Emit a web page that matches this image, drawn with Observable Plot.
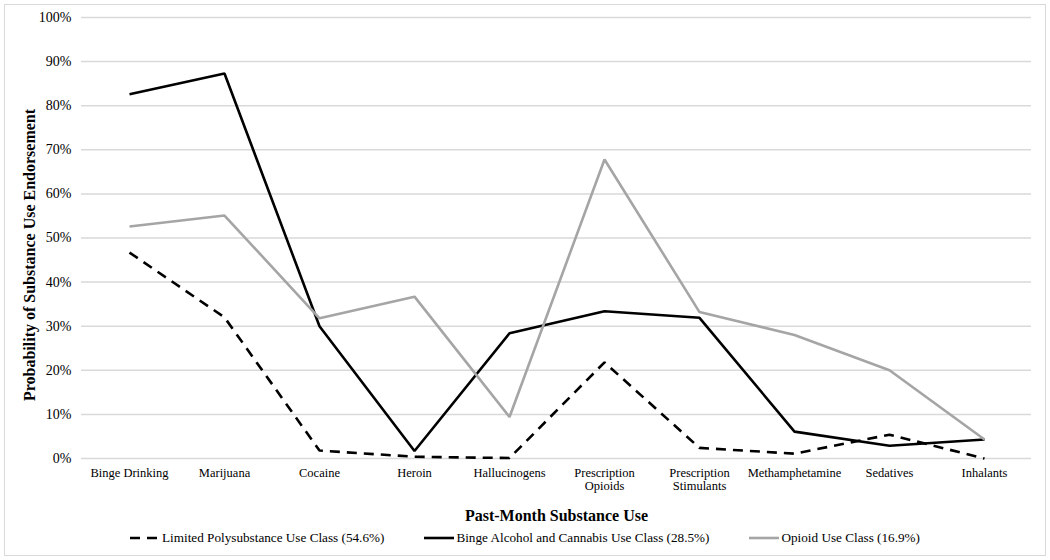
<!DOCTYPE html>
<html>
<head>
<meta charset="utf-8">
<script src="https://cdn.jsdelivr.net/npm/d3@7"></script>
<script src="https://cdn.jsdelivr.net/npm/@observablehq/plot@0.6"></script>
<style>
  html, body { margin: 0; padding: 0; background: #fff; }
  body { font-family: "Liberation Serif", "Times New Roman", serif; }
  #frame { position: absolute; left: 4px; top: 4px; width: 1040px; height: 550px; border: 1px solid #d9d9d9; }
  #chart svg { display: block; font-family: "Liberation Serif", "Times New Roman", serif; }
  #legend { display: flex; justify-content: center; align-items: center; gap: 40px; font-size: 13.2px; color: #000; height: 16px; }
  .item { display: flex; align-items: center; gap: 2px; white-space: nowrap; }
</style>
</head>
<body>
<div id="frame">
  <div id="chart"></div>
  <div id="legend"></div>
</div>
<script>
const categories = ["Binge Drinking", "Marijuana", "Cocaine", "Heroin", "Hallucinogens",
  "Prescription Opioids", "Prescription Stimulants", "Methamphetamine", "Sedatives", "Inhalants"];
const tickLabels = ["Binge Drinking", "Marijuana", "Cocaine", "Heroin", "Hallucinogens",
  "Prescription\nOpioids", "Prescription\nStimulants", "Methamphetamine", "Sedatives", "Inhalants"];
const seriesNames = ["Limited Polysubstance Use Class (54.6%)",
  "Binge Alcohol and Cannabis Use Class (28.5%)",
  "Opioid Use Class (16.9%)"];
const limitedValues = [0.467, 0.320, 0.018, 0.004, 0.001, 0.218, 0.024, 0.011, 0.054, 0.000];
const bingeValues   = [0.826, 0.873, 0.300, 0.017, 0.284, 0.334, 0.319, 0.061, 0.029, 0.043];
const opioidValues  = [0.526, 0.551, 0.318, 0.367, 0.094, 0.678, 0.332, 0.280, 0.200, 0.043];
const yTicks = [0, 0.1, 0.2, 0.3, 0.4, 0.5, 0.6, 0.7, 0.8, 0.9, 1.0];
const yTitle = "Probability of Substance Use Endorsement";
const xTitle = "Past-Month Substance Use";

const styles = [
  {stroke: "#000000", dash: "10,7"},
  {stroke: "#000000", dash: null},
  {stroke: "#a5a5a5", dash: null}
];
const allValues = [limitedValues, bingeValues, opioidValues];
const rows = (vals) => categories.map((c, i) => ({category: c, value: vals[i]}));
const labelOf = new Map(categories.map((c, i) => [c, tickLabels[i]]));

const marks = [
  Plot.gridY(yTicks, {stroke: "#d9d9d9", strokeOpacity: 1, strokeWidth: 1.5}),
  Plot.axisY(yTicks, {tickFormat: d3.format(".0%"), tickSize: 0, tickPadding: 10, fontSize: 14, label: null}),
  Plot.axisX({tickSize: 0, tickPadding: 10, fontSize: 12.5, label: null, tickFormat: d => labelOf.get(d)}),
];
allValues.forEach((vals, k) => {
  marks.push(Plot.line(rows(vals), {x: "category", y: "value", stroke: styles[k].stroke, strokeWidth: 2.6,
    strokeDasharray: styles[k].dash, strokeLinejoin: "miter", strokeLinecap: "butt"}));
});
marks.push(Plot.text([yTitle], {frameAnchor: "left", textAnchor: "middle", rotate: -90, dx: -52, dy: 17, fontSize: 16, fontWeight: "bold", fill: "#000"}));
marks.push(Plot.text([xTitle], {frameAnchor: "bottom", dy: 62, fontSize: 16, fontWeight: "bold", fill: "#000"}));

const chart = Plot.plot({
  width: 1040,
  height: 525,
  marginLeft: 76,
  marginRight: 14,
  marginTop: 12,
  marginBottom: 72,
  x: {domain: categories, type: "point", padding: 0.5},
  y: {domain: [0, 1]},
  style: {fontFamily: "Liberation Serif, Times New Roman, serif", color: "#000", background: "#fff"},
  marks
});
document.getElementById("chart").appendChild(chart);

const legend = document.getElementById("legend");
seriesNames.forEach((name, k) => {
  const item = document.createElement("div");
  item.className = "item";
  const sw = `<svg width="30" height="10"><line x1="0" y1="5" x2="30" y2="5" stroke="${styles[k].stroke}" stroke-width="2.6" ${styles[k].dash ? `stroke-dasharray="10,7"` : ""}/></svg>`;
  item.innerHTML = sw + `<span>${name}</span>`;
  legend.appendChild(item);
});
</script>
</body>
</html>
